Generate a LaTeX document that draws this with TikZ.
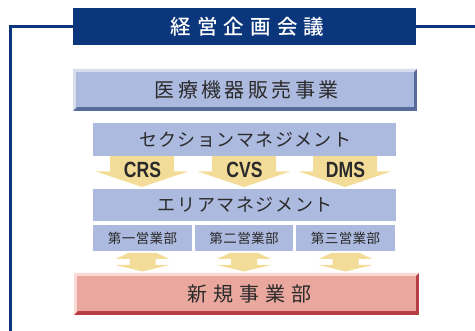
\documentclass[tikz,border=0pt]{standalone}
\usepackage{fontspec}
\newfontfamily\jp{Noto Sans CJK JP}
\newfontfamily\jpm{Noto Sans CJK JP Medium}
\newfontfamily\cond[FakeStretch=0.8]{Liberation Sans}
\definecolor{navy}{HTML}{0C367B}
\definecolor{lblue}{HTML}{ADBADF}
\definecolor{lbluehi}{HTML}{D6DDEE}
\definecolor{lbluesh}{HTML}{586C9C}
\definecolor{yel}{HTML}{F3DC98}
\definecolor{redf}{HTML}{E9A79D}
\definecolor{redhi}{HTML}{FCDAD4}
\definecolor{redsh}{HTML}{B63E42}
\definecolor{txt}{HTML}{2A2A2A}
\tikzset{
  bevel/.style n args={3}{path picture={
    \fill[#1] (path picture bounding box.south west) rectangle (path picture bounding box.north east);
    \fill[#2] (path picture bounding box.south west) -- (path picture bounding box.north west)
      -- (path picture bounding box.north east) -- ([shift={(-3.5pt,-3.5pt)}]path picture bounding box.north east)
      -- ([shift={(3.5pt,-3.5pt)}]path picture bounding box.north west) -- ([shift={(3.5pt,3.5pt)}]path picture bounding box.south west) -- cycle;
    \fill[#3] ([shift={(3.5pt,-3.5pt)}]path picture bounding box.north west) rectangle ([shift={(-3.5pt,3.5pt)}]path picture bounding box.south east);
  }},
  box/.style={rectangle, inner sep=0pt, text=txt, font=\jp},
  navyline/.style={draw=navy, line width=2.6pt},
  blockarrow/.style={fill=yel},
  lab/.style={inner sep=0pt, text=txt, font=\cond\bfseries\fontsize{22}{22}\selectfont},
}
\begin{document}
\begin{tikzpicture}[x=1pt,y=-1pt]
\useasboundingbox (0,0) rectangle (475,331);
% lines
\coordinate (lc) at (10.5,26.5);
\coordinate (lb) at (10.5,331);
\coordinate (rc) at (475,26.5);
\node[box, fill=navy, minimum width=343pt, minimum height=37pt, text=white,
  font=\jpm\fontsize{20.5}{20.5}\selectfont\addfontfeature{LetterSpace=30}] (top) at (244.5,26.5) {経営企画会議\kern-6pt};
\draw[navyline] (top.west) -- (lc) -- (lb);
\draw[navyline] (top.east) -- (rc);
% medical
\node[box, bevel={lbluesh}{lbluehi}{lblue}, minimum width=344pt, minimum height=42pt,
  font=\jp\fontsize{20}{20}\selectfont\addfontfeature{LetterSpace=17}] (med) at (245,90) {医療機器販売事業\kern-3.4pt};
% section
\node[box, fill=lblue, minimum width=303pt, minimum height=33pt,
  font=\jp\fontsize{18}{18}\selectfont\addfontfeature{LetterSpace=8}] (sec) at (244.5,139.5) {セクションマネジメント\kern-1.4pt};
% area
\node[box, fill=lblue, minimum width=303pt, minimum height=32pt,
  font=\jp\fontsize{18}{18}\selectfont\addfontfeature{LetterSpace=9}] (area) at (244.5,205) {エリアマネジメント\kern-1.6pt};
% sub departments
\node[box, fill=lblue, minimum width=99pt, minimum height=26pt,
  font=\jp\fontsize{13.5}{13.5}\selectfont\addfontfeature{LetterSpace=3}] (d1) at (142.5,238) {第一営業部};
\node[box, fill=lblue, minimum width=98pt, minimum height=26pt,
  font=\jp\fontsize{13.5}{13.5}\selectfont\addfontfeature{LetterSpace=3}] (d2) at (244,238) {第二営業部};
\node[box, fill=lblue, minimum width=99pt, minimum height=26pt,
  font=\jp\fontsize{13.5}{13.5}\selectfont\addfontfeature{LetterSpace=3}] (d3) at (345.5,238) {第三営業部};
% new business
\node[box, bevel={redsh}{redhi}{redf}, minimum width=345pt, minimum height=42pt,
  font=\jp\fontsize{20}{20}\selectfont\addfontfeature{LetterSpace=30}] (new) at (246.5,294) {新規事業部\kern-6pt};
% down arrows
\foreach \c/\t in {142/CRS,244/CVS,345/DMS}{
  \fill[blockarrow] (\c-32,156) -- (\c+32,156) -- (\c+32,171.5) -- (\c+46,171.5) -- (\c,187)
     -- (\c-46,171.5) -- (\c-32,171.5) -- cycle;
  \node[lab] (l\t) at (\c+0.5,169.5) {\t};
}
% double arrows
\foreach \c in {142.5,244,345.5}{
  \fill[blockarrow] (\c-14,253) -- (\c+14,253) -- (\c+27,259) -- (\c+13,259) -- (\c+13,265)
     -- (\c+27,265) -- (\c,271.5) -- (\c-27,265) -- (\c-13,265) -- (\c-13,259) -- (\c-27,259) -- cycle;
}
\end{tikzpicture}
\end{document}
